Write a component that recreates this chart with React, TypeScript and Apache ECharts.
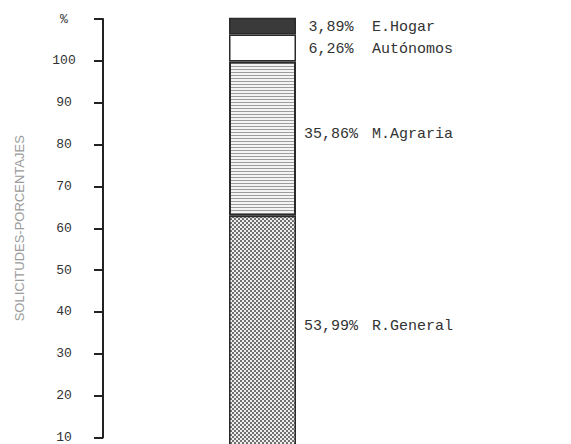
import React, { useEffect, useRef } from 'react';
import * as echarts from 'echarts';

const categories = ['Solicitudes'];
const seriesNames = ['R.General', 'M.Agraria', 'Autónomos', 'E.Hogar'];
const seriesValues = [53.99, 35.86, 6.26, 3.89];
const valueLabels = ['53,99%', '35,86%', '6,26%', '3,89%'];
const yTickValues = [10, 20, 30, 40, 50, 60, 70, 80, 90, 100, 110];
const yTickLabels = ['10', '20', '30', '40', '50', '60', '70', '80', '90', '100', '%'];
const yAxisTitle = 'SOLICITUDES-PORCENTAJES';

function makeCanvas(w: number, h: number, draw: (ctx: CanvasRenderingContext2D) => void) {
  const c = document.createElement('canvas');
  c.width = w;
  c.height = h;
  const ctx = c.getContext('2d')!;
  draw(ctx);
  return c;
}

export default function App() {
  const ref = useRef<HTMLDivElement>(null);
  useEffect(() => {
    if (!ref.current) return;
    const chart = echarts.init(ref.current, undefined, { renderer: 'svg' });

    const dots = makeCanvas(4, 4, (ctx) => {
      ctx.fillStyle = '#efefef';
      ctx.fillRect(0, 0, 4, 4);
      ctx.fillStyle = '#3a3a3a';
      const pts = [[1, 1], [3, 3], [3, -1], [-1, 3], [5, 3], [3, 5]];
      pts.forEach(([x, y]) => {
        ctx.beginPath();
        ctx.arc(x, y, 0.95, 0, Math.PI * 2);
        ctx.fill();
      });
    });
    const lines = makeCanvas(4, 3, (ctx) => {
      ctx.fillStyle = '#f4f4f4';
      ctx.fillRect(0, 0, 4, 3);
      ctx.fillStyle = '#9c9c9c';
      ctx.fillRect(0, 0, 4, 1);
    });

    const fills: any[] = [
      { image: dots, repeat: 'repeat', imageWidth: 4, imageHeight: 4 },
      { image: lines, repeat: 'repeat', imageWidth: 4, imageHeight: 3 },
      '#ffffff',
      '#3a3a3a',
    ];
    const labelOffsets = [[0, -6], [0, -4], [0, 2], [0, 1]];

    const textStyle = { fontFamily: 'Liberation Mono', fontSize: 15, color: '#333' };

    const series = seriesNames.map((name, i) => ({
      name,
      type: 'bar',
      stack: 'total',
      yAxisIndex: 1,
      clip: false,
      barWidth: 67,
      data: [seriesValues[i]],
      itemStyle: {
        color: fills[i],
        borderColor: '#2a2a2a',
        borderWidth: i === 1 ? 2 : 1.5,
      },
      label: {
        show: true,
        position: 'right',
        distance: 5,
        offset: labelOffsets[i],
        formatter: `{p|${valueLabels[i]}}{n|${name}}`,
        rich: {
          p: { ...textStyle, width: 60, align: 'right' },
          n: { ...textStyle, padding: [0, 0, 0, 11] },
        },
      },
    }));

    chart.setOption({
      animation: false,
      backgroundColor: '#ffffff',
      grid: { left: 103, width: 319, top: 19, height: 427, containLabel: false },
      xAxis: {
        type: 'category',
        data: categories,
        show: false,
      },
      yAxis: [
        {
          type: 'value',
          position: 'left',
          min: 10,
          max: 110,
          interval: 10,
          name: yAxisTitle,
          nameLocation: 'middle',
          nameRotate: 90,
          nameGap: 77,
          nameTextStyle: {
            fontFamily: 'Liberation Sans',
            fontSize: 13,
            color: '#9a9a9a',
          },
          axisLine: { show: true, lineStyle: { color: '#222', width: 2 } },
          axisTick: { show: true, length: 9, lineStyle: { color: '#222', width: 2 } },
          splitLine: { show: false },
          axisLabel: {
            margin: 39,
            align: 'center',
            fontFamily: 'Liberation Mono',
            fontSize: 13,
            color: '#333',
            showMinLabel: true,
            showMaxLabel: true,
            formatter: (v: number) => {
              const idx = yTickValues.indexOf(Math.round(v));
              return idx >= 0 ? yTickLabels[idx] : '';
            },
          },
        },
        {
          type: 'value',
          show: false,
          min: 2.5,
          max: 99.7,
          splitLine: { show: false },
        },
      ],
      series,
    });
    return () => chart.dispose();
  }, []);
  return (
    <div
      ref={ref}
      style={{ position: 'absolute', left: 0, top: 0, width: 571, height: 444 }}
    />
  );
}
